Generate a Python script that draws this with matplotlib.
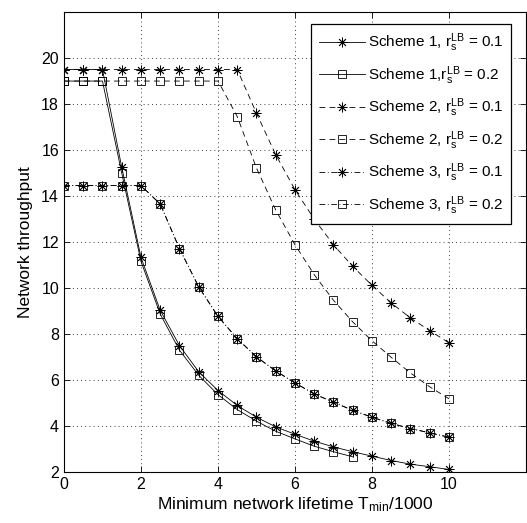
import matplotlib
matplotlib.use("Agg")
from matplotlib import pyplot as plt

plt.rcParams['font.family'] = ['Liberation Sans', 'DejaVu Sans']
plt.rcParams['mathtext.fontset'] = 'custom'
plt.rcParams['mathtext.rm'] = 'Liberation Sans'
plt.rcParams['mathtext.it'] = 'Liberation Sans'
plt.rcParams['mathtext.default'] = 'rm'

x = [0, 0.5, 1, 1.5, 2, 2.5, 3, 3.5, 4, 4.5, 5, 5.5, 6, 6.5, 7, 7.5, 8, 8.5, 9, 9.5, 10]

s1_r01 = [19.5, 19.5, 19.5, 15.26, 11.34, 9.04, 7.51, 6.37, 5.56, 4.91, 4.40, 3.98, 3.66,
          3.36, 3.11, 2.90, 2.71, 2.52, 2.36, 2.25, 2.13]
x_s1_r02 = [0, 0.5, 1, 1.5, 2, 2.5, 3, 3.5, 4, 4.5, 5, 5.5, 6, 6.5, 7, 7.5]
s1_r02 = [19.0, 19.0, 19.0, 15.0, 11.17, 8.88, 7.31, 6.22, 5.38, 4.73, 4.23, 3.79, 3.46,
          3.14, 2.90, 2.68]

s2_r01 = [19.5, 19.5, 19.5, 19.5, 19.5, 19.5, 19.5, 19.5, 19.5, 19.5, 17.6, 15.8, 14.28,
          13.0, 11.89, 10.95, 10.13, 9.36, 8.71, 8.16, 7.63]
s2_r02 = [19.0, 19.0, 19.0, 19.0, 19.0, 19.0, 19.0, 19.0, 19.0, 17.46, 15.22, 13.4, 11.89,
          10.59, 9.48, 8.54, 7.72, 7.0, 6.32, 5.72, 5.20]

s3_r01 = [14.46, 14.46, 14.46, 14.46, 14.46, 13.66, 11.72, 10.06, 8.78, 7.81, 7.02, 6.41,
          5.89, 5.41, 5.05, 4.70, 4.40, 4.13, 3.91, 3.72, 3.53]
s3_r02 = s3_r01

star = (8, 2, 0)
fig = plt.figure(figsize=(5.27, 5.23), dpi=100)
ax = fig.add_axes([0.1214, 0.0966, 0.8767, 0.8805])

kw = dict(color='black', linewidth=0.6, markeredgewidth=0.6)
ax.plot(x, s1_r01, linestyle='-', marker=star, markersize=7,
        label='Scheme 1, r$_s^{LB}$ = 0.1', **kw)
ax.plot(x_s1_r02, s1_r02, linestyle='-', marker='s', markersize=6, markerfacecolor='none',
        label='Scheme 1,r$_s^{LB}$ = 0.2', **kw)
ax.plot(x, s2_r01, linestyle=(0, (7, 5)), marker=star, markersize=7,
        label='Scheme 2, r$_s^{LB}$ = 0.1', **kw)
ax.plot(x, s2_r02, linestyle=(0, (7, 5)), marker='s', markersize=6, markerfacecolor='none',
        label='Scheme 2, r$_s^{LB}$ = 0.2', **kw)
ax.plot(x, s3_r01, linestyle=(0, (7, 3, 1, 3)), marker=star, markersize=7,
        label='Scheme 3, r$_s^{LB}$ = 0.1', **kw)
ax.plot(x, s3_r02, linestyle=(0, (7, 3, 1, 3)), marker='s', markersize=6, markerfacecolor='none',
        label='Scheme 3, r$_s^{LB}$ = 0.2', **kw)

ax.set_xlim(0, 12)
ax.set_ylim(2, 22)
ax.set_xticks([0, 2, 4, 6, 8, 10])
ax.set_yticks([2, 4, 6, 8, 10, 12, 14, 16, 18, 20])
ax.tick_params(direction='in', top=True, right=True, labelsize=11.5, length=4, width=0.6)
ax.grid(True, linestyle=(0, (1, 4)), color='black', linewidth=0.6)
for sp in ax.spines.values():
    sp.set_linewidth(0.8)

ax.set_xlabel('Minimum network lifetime T$_{min}$/1000', fontsize=12.5, labelpad=2)
ax.set_ylabel('Network throughput', fontsize=12.5, labelpad=6)

leg = ax.legend(loc='upper right', fontsize=11, handlelength=3.0, handletextpad=0.2,
                labelspacing=0.65, borderpad=0.5, borderaxespad=0, fancybox=False,
                framealpha=1, edgecolor='black', bbox_to_anchor=(0.9675, 0.974))
leg.get_frame().set_linewidth(0.9)

plt.savefig('out.png', dpi=100)
